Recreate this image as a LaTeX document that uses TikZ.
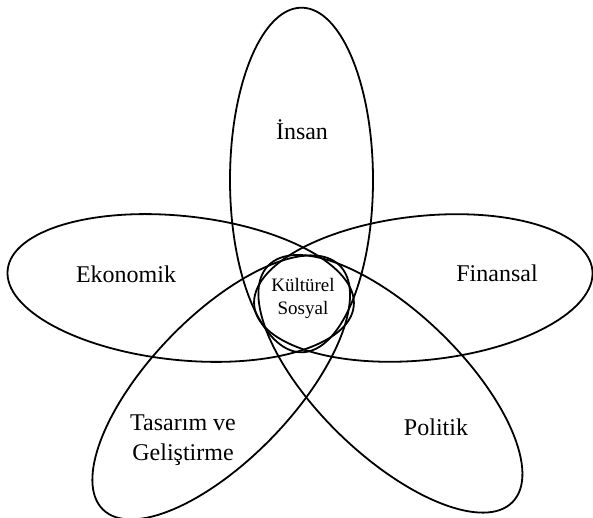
\documentclass[tikz,border=0pt]{standalone}
\usepackage{fontspec}
\setmainfont{Liberation Serif}
\usepackage{tikz}
\usetikzlibrary{calc,positioning}
\tikzset{
  petal/.style={draw, line width=0.9pt},
  lbl/.style={inner sep=0pt, align=center, font=\fontsize{12}{15}\selectfont},
  core/.style={inner sep=0pt, align=center, font=\fontsize{9.5}{11.5}\selectfont},
  every picture/.style={line cap=round, line join=round}
}

\begin{document}
\begin{tikzpicture}[x=0.5pt,y=0.5pt]
  \useasboundingbox (0,0) rectangle (593,518);
  % petal centres
  \coordinate (cI) at (301.5,338);
  \coordinate (cE) at (180.7,230);
  \coordinate (cF) at (423.3,230);
  \coordinate (cT) at (221.2,130.6);
  \coordinate (cP) at (390.4,134.2);
  \draw[petal] (cI) ellipse (71.5 and 172.3);
  \draw[petal, rotate around={-6:(cE)}] (cE) ellipse (174 and 72);
  \draw[petal, rotate around={6:(cF)}] (cF) ellipse (170 and 72);
  \draw[petal, rotate around={46:(cT)}] (cT) ellipse (170 and 71.5);
  \draw[petal, rotate around={-44:(cP)}] (cP) ellipse (170 and 71.5);
  % labels
  \node[lbl] (insan) at (302,388) {İnsan};
  \node[lbl] (eko) at (126,244) {Ekonomik};
  \node[lbl] (fin) at (497,245) {Finansal};
  \node[lbl] (tas) at (183,78) {Tasarım ve\\Geliştirme};
  \node[lbl] (pol) at (436,91) {Politik};
  \node[core] (kul) at (303,220) {Kültürel\\Sosyal};
\end{tikzpicture}
\end{document}
